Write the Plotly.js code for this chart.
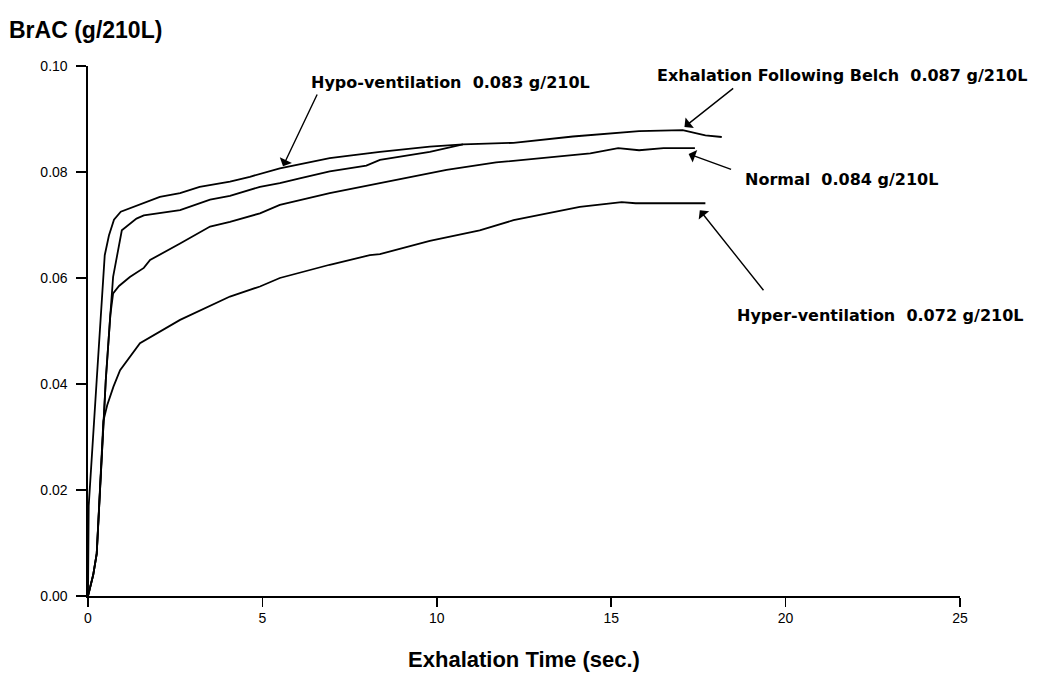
<!DOCTYPE html>
<html>
<head>
<meta charset="utf-8">
<script src="https://cdn.plot.ly/plotly-3.0.1.min.js"></script>
<style>html,body{margin:0;padding:0;background:#fff;}#chart{width:1050px;height:679px;}</style>
</head>
<body>
<div id="chart"></div>
<script>
// Hypo-ventilation curve
const hypoX = [0, 0.02, 0.25, 0.44, 0.48, 0.6, 0.745, 0.94, 1.6, 2.06, 2.64, 3.2, 4.07, 4.64, 5.5, 6.93, 7.5, 8.37, 9.8, 10.75];
const hypoY = [0, 0.017, 0.0408, 0.0596, 0.0643, 0.068, 0.071, 0.0725, 0.0741, 0.0753, 0.076, 0.0772, 0.0782, 0.0791, 0.0807, 0.0826, 0.0831, 0.0838, 0.0848, 0.0852];
// Exhalation following belch curve
const belchX = [0, 0.15, 0.25, 0.51, 0.64, 0.72, 0.97, 1.39, 1.6, 2.06, 2.64, 3.5, 4.07, 4.93, 5.5, 6.07, 6.93, 7.98, 8.37, 9.8, 10.75, 12.2, 13.5, 13.9, 15.8, 17.05, 17.45, 17.7, 18.17];
const belchY = [0, 0.004, 0.008, 0.0408, 0.053, 0.0602, 0.069, 0.0712, 0.0718, 0.0722, 0.0728, 0.0748, 0.0755, 0.0772, 0.0779, 0.0788, 0.0801, 0.0812, 0.0823, 0.0838, 0.0852, 0.0855, 0.0864, 0.0867, 0.0877, 0.0879, 0.0873, 0.0869, 0.0866];
// Normal curve
const normalX = [0, 0.15, 0.25, 0.51, 0.64, 0.72, 0.89, 1.2, 1.6, 1.78, 2.64, 3.5, 4.07, 4.93, 5.5, 6.93, 8.37, 9.0, 10.28, 11.7, 12.95, 13.5, 14.4, 15.2, 15.8, 16.5, 17.4];
const normalY = [0, 0.004, 0.008, 0.0408, 0.053, 0.0571, 0.0585, 0.0602, 0.0619, 0.0634, 0.0665, 0.0697, 0.0706, 0.0722, 0.0738, 0.076, 0.0779, 0.0787, 0.0804, 0.0818, 0.0826, 0.083, 0.0835, 0.0845, 0.0841, 0.0845, 0.0845];
// Hyper-ventilation curve
const hyperX = [0, 0.15, 0.25, 0.44, 0.55, 0.73, 0.92, 1.49, 2.64, 4.07, 4.93, 5.5, 6.93, 8.08, 8.37, 9.8, 11.23, 12.2, 14.1, 15.3, 15.7, 17.7];
const hyperY = [0, 0.004, 0.008, 0.033, 0.036, 0.0395, 0.0426, 0.0477, 0.0521, 0.0565, 0.0584, 0.06, 0.0625, 0.0643, 0.0645, 0.067, 0.069, 0.0709, 0.0734, 0.0743, 0.0741, 0.0741];

const labels = ["Hypo-ventilation  0.083 g/210L", "Exhalation Following Belch  0.087 g/210L", "Normal  0.084 g/210L", "Hyper-ventilation  0.072 g/210L"];
const xTicks = [0, 5, 10, 15, 20, 25];
const yTicks = [0, 0.02, 0.04, 0.06, 0.08, 0.10];

const FONT = "Liberation Sans, Arial, sans-serif";
const LFONT = "DejaVu Sans, sans-serif";
const line = {color: "#000", width: 1.8};
const traces = [
  {x: hypoX, y: hypoY, name: "Hypo-ventilation", mode: "lines", line: line},
  {x: belchX, y: belchY, name: "Exhalation Following Belch", mode: "lines", line: line},
  {x: normalX, y: normalY, name: "Normal", mode: "lines", line: line},
  {x: hyperX, y: hyperY, name: "Hyper-ventilation", mode: "lines", line: line}
];

function arrow(tipX, tipY, tailX, tailY) {
  return {x: tipX, y: tipY, ax: tailX, ay: tailY, xref: "x", yref: "y", axref: "x", ayref: "y",
    text: "", showarrow: true, arrowhead: 1, arrowsize: 1.6, arrowwidth: 1.4, arrowcolor: "#000", standoff: 0};
}
function label(txt, x, y) {
  return {x: x, y: y, xref: "x", yref: "y", text: "<b>" + txt + "</b>", showarrow: false,
    xanchor: "left", yanchor: "middle", font: {family: LFONT, size: 16, color: "#000"}};
}

const layout = {
  width: 1050, height: 679,
  margin: {l: 88, r: 90, t: 66, b: 83},
  paper_bgcolor: "#fff", plot_bgcolor: "#fff",
  showlegend: false,
  font: {family: FONT, color: "#000"},
  xaxis: {
    range: [0, 25], tickvals: xTicks, ticktext: xTicks.map(String),
    showgrid: false, zeroline: false, showline: true, linecolor: "#000", linewidth: 1.6,
    ticks: "outside", ticklen: 9, tickwidth: 1.6, tickcolor: "#000",
    tickfont: {family: FONT, size: 14, color: "#000"},
    title: {text: "<b>Exhalation Time (sec.)</b>", font: {family: FONT, size: 22, color: "#000"}, standoff: 26}
  },
  yaxis: {
    range: [0, 0.10], tickvals: yTicks, ticktext: yTicks.map(v => v.toFixed(2)),
    showgrid: false, zeroline: false, showline: true, linecolor: "#000", linewidth: 1.6,
    ticks: "outside", ticklen: 10, tickwidth: 1.6, tickcolor: "#000", ticklabelstandoff: 6,
    tickfont: {family: FONT, size: 14, color: "#000"}
  },
  annotations: [
    {xref: "paper", yref: "paper", x: -0.093, y: 1.04, xanchor: "left", yanchor: "bottom",
     text: "<b>BrAC (g/210L)</b>", showarrow: false, font: {family: FONT, size: 23, color: "#000"}},
    arrow(5.59, 0.0811, 6.59, 0.0949),
    arrow(17.1, 0.0885, 18.54, 0.0960),
    arrow(17.22, 0.0834, 18.48, 0.0804),
    arrow(17.54, 0.0728, 19.40, 0.0574),
    label(labels[0], 6.33, 0.0968),
    label(labels[1], 16.25, 0.0983),
    label(labels[2], 18.78, 0.0785),
    label(labels[3], 18.54, 0.0530)
  ]
};

Plotly.newPlot("chart", traces, layout, {displayModeBar: false, staticPlot: true});
</script>
</body>
</html>
